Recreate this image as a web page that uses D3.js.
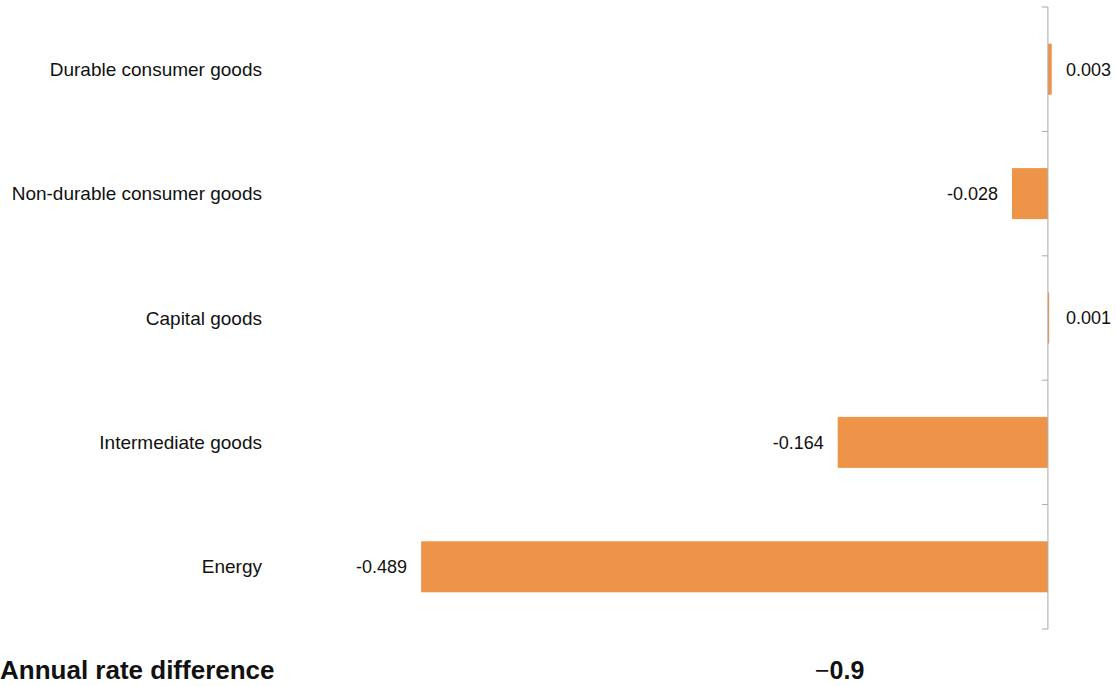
<!DOCTYPE html>
<html>
<head>
<meta charset="utf-8">
<script src="https://cdn.jsdelivr.net/npm/d3@7"></script>
<style>
  body { margin: 0; background: #fff; }
  svg { display: block; font-family: "Liberation Sans", Arial, sans-serif; }
</style>
</head>
<body>
<svg id="chart" width="1117" height="686"></svg>
<script>
const categories = ["Durable consumer goods", "Non-durable consumer goods", "Capital goods", "Intermediate goods", "Energy"];
const values = [0.003, -0.028, 0.001, -0.164, -0.489];
const footLabel = "Annual rate difference";
const footSign = "\u2212";
const footValue = "0.9";

const svg = d3.select("#chart");
const data = categories.map((c, i) => ({ category: c, value: values[i] }));

const x = d3.scaleLinear().domain([-0.5, 0.05]).range([407, 1112]);
const y = d3.scaleBand().domain(categories).range([7, 629]).paddingInner(0.59).paddingOuter(0.295);

const barColor = "#ed9448";
const axisColor = "#a9a9a9";

// bars
svg.append("g")
  .selectAll("rect")
  .data(data)
  .join("rect")
  .attr("x", d => x(Math.min(0, d.value)))
  .attr("y", d => y(d.category))
  .attr("width", d => Math.max(1, Math.abs(x(d.value) - x(0))))
  .attr("height", y.bandwidth())
  .attr("fill", barColor);

// vertical axis at zero with ticks at band edges
const axis = svg.append("g").attr("stroke", axisColor).attr("stroke-width", 1);
axis.append("line")
  .attr("x1", x(0)).attr("x2", x(0))
  .attr("y1", y.range()[0]).attr("y2", y.range()[1]);
const edges = d3.range(categories.length + 1).map(i => y.range()[0] + i * y.step());
axis.selectAll(".tick")
  .data(edges)
  .join("line")
  .attr("x1", x(0) - 6).attr("x2", x(0))
  .attr("y1", d => d).attr("y2", d => d);

// category labels
svg.append("g")
  .selectAll("text")
  .data(data)
  .join("text")
  .attr("x", 262)
  .attr("y", d => y(d.category) + y.bandwidth() / 2)
  .attr("dy", "0.35em")
  .attr("text-anchor", "end")
  .attr("font-size", 19)
  .attr("fill", "#111")
  .text(d => d.category);

// value labels
svg.append("g")
  .selectAll("text")
  .data(data)
  .join("text")
  .attr("x", d => d.value >= 0 ? x(0) + 18 : x(d.value) - 14)
  .attr("y", d => y(d.category) + y.bandwidth() / 2)
  .attr("dy", "0.35em")
  .attr("text-anchor", d => d.value >= 0 ? "start" : "end")
  .attr("font-size", 18)
  .attr("fill", "#111")
  .text(d => d3.format(".3f")(d.value).replace("\u2212", "-"));

// footer
svg.append("text")
  .attr("x", 0)
  .attr("y", 679)
  .attr("font-size", 26)
  .attr("font-weight", "bold")
  .attr("fill", "#111")
  .text(footLabel);

const foot = svg.append("text")
  .attr("x", 815)
  .attr("y", 679)
  .attr("font-size", 25)
  .attr("fill", "#111");
foot.append("tspan").text(footSign);
foot.append("tspan").attr("font-weight", "bold").text(footValue);
</script>
</body>
</html>
